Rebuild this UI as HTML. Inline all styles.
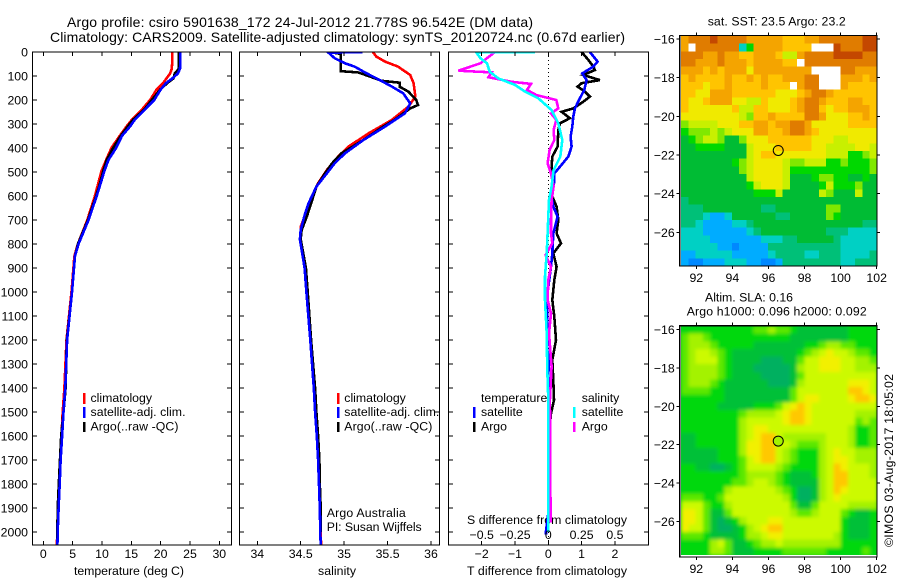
<!DOCTYPE html>
<html>
<head>
<meta charset="utf-8">
<title>Argo profile csiro 5901638_172</title>
<style>
html,body{margin:0;padding:0;background:#fff;}
svg{display:block;}
text{font-family:"Liberation Sans",sans-serif;fill:#000;font-size:12.3px;}
.t{font-size:14px;}
</style>
</head>
<body>
<svg id="fig" xmlns="http://www.w3.org/2000/svg" width="900" height="580" viewBox="0 0 900 580">
<defs>
<clipPath id="clip-temp"><rect x="32.5" y="52" width="199" height="493"/></clipPath>
<clipPath id="clip-sal"><rect x="239.5" y="52" width="200" height="493"/></clipPath>
<clipPath id="clip-diff"><rect x="448.5" y="52" width="200" height="493"/></clipPath>
<clipPath id="clip-sla"><rect x="681" y="326" width="196" height="229"/></clipPath>
<filter id="smooth" x="-5%" y="-5%" width="110%" height="110%"><feGaussianBlur stdDeviation="1.9"/></filter>
</defs>
<rect x="0" y="0" width="900" height="580" fill="#fff"/>
<text class="t" x="67" y="27" textLength="466" lengthAdjust="spacing">Argo profile: csiro 5901638_172 24-Jul-2012 21.778S 96.542E (DM data)</text>
<text class="t" x="50" y="42" textLength="575" lengthAdjust="spacing">Climatology: CARS2009. Satellite-adjusted climatology: synTS_20120724.nc (0.67d earlier)</text>

<text x="74" y="575" textLength="110" lengthAdjust="spacing">temperature (deg C)</text>
<text x="318" y="575" textLength="38" lengthAdjust="spacing">salinity</text>
<text x="467" y="575" textLength="160" lengthAdjust="spacing">T difference from climatology</text>
<text x="467" y="524" textLength="160" lengthAdjust="spacing">S difference from climatology</text>

<rect x="83" y="393" width="2.5" height="11" fill="#f00"/>
<rect x="83" y="407" width="2.5" height="11" fill="#00f"/>
<rect x="83" y="422" width="2.5" height="10" fill="#000"/>
<text x="90.5" y="402">climatology</text>
<text x="90.5" y="416" textLength="95" lengthAdjust="spacing">satellite-adj. clim.</text>
<text x="90.5" y="430.5" textLength="88" lengthAdjust="spacing">Argo(..raw -QC)</text>

<rect x="337" y="393" width="2.5" height="11" fill="#f00"/>
<rect x="337" y="407" width="2.5" height="11" fill="#00f"/>
<rect x="337" y="422" width="2.5" height="10" fill="#000"/>
<text x="344.3" y="402">climatology</text>
<text x="344.3" y="416" textLength="95" lengthAdjust="spacing">satellite-adj. clim.</text>
<text x="344.3" y="430.5" textLength="88" lengthAdjust="spacing">Argo(..raw -QC)</text>
<text x="326.7" y="517" textLength="79" lengthAdjust="spacing">Argo Australia</text>
<text x="326.7" y="531" textLength="95" lengthAdjust="spacing">PI: Susan Wijffels</text>

<text x="481" y="402">temperature</text>
<text x="481" y="416">satellite</text>
<text x="481" y="430.5">Argo</text>
<rect x="473" y="407" width="2.5" height="11" fill="#00f"/>
<rect x="473" y="422" width="2.5" height="10" fill="#000"/>
<text x="581.7" y="402">salinity</text>
<text x="581.7" y="416">satellite</text>
<text x="581.7" y="430.5">Argo</text>
<rect x="573" y="407" width="2.5" height="11" fill="#0ff"/>
<rect x="573" y="422" width="2.5" height="10" fill="#f0f"/>

<text x="707.7" y="25.5" textLength="138" lengthAdjust="spacing">sat. SST: 23.5 Argo: 23.2</text>
<text x="705" y="301.5" textLength="88" lengthAdjust="spacing">Altim. SLA: 0.16</text>
<text x="686.7" y="315.5" textLength="180" lengthAdjust="spacing">Argo h1000: 0.096 h2000: 0.092</text>
<text transform="translate(893,547) rotate(-90)" textLength="173" lengthAdjust="spacing">©IMOS 03-Aug-2017 18:05:02</text>
</svg>

<script>
// Depths (m) shared by temperature profiles
var tempDepths = [0,30,70,90,110,130,157,200,240,282,310,350,400,450,497,545,600,700,800,850,1000,1200,1400,1500,1600,1700,1800,1900,2000,2054];
var tempClim = [22.0,22.0,21.9,21.6,21.0,20.4,19.3,18.2,16.8,15.1,14.2,13.0,11.6,10.7,9.9,9.4,8.8,7.5,5.9,5.3,4.8,3.95,3.6,3.3,3.1,2.85,2.7,2.55,2.4,2.3];
var tempSat = [23.35,23.35,23.3,22.9,22.0,20.9,20.0,18.9,17.3,15.6,14.8,13.4,12.4,11.1,10.4,9.8,9.1,7.7,6.0,5.4,4.9,4.05,3.75,3.45,3.2,2.95,2.8,2.6,2.45,2.4];
var tempArgo = [23.1,23.1,23.1,22.4,22.2,21.1,19.9,18.5,17.2,15.3,14.4,13.2,11.9,10.8,10.2,9.7,9.0,7.6,5.9,5.4,4.9,4.0,3.8,3.45,3.05,2.85,2.65,2.45,2.4,2.35];

// Salinity profiles: each with its own depths
var salClimDepths = [0,19,40,61,96,130,186,228,283,339,394,436,492,547,603,672,728,780,900,1000,1200,1400,1500,1600,1700,1800,1900,2000,2054];
var salClim = [35.33,35.37,35.47,35.62,35.76,35.80,35.82,35.74,35.55,35.28,35.05,34.93,34.80,34.70,34.63,34.56,34.50,34.50,34.55,34.57,34.61,34.66,34.67,34.685,34.70,34.71,34.72,34.73,34.735];
var salSatDepths = [0,3,26,47,61,89,117,144,172,214,256,311,367,422,464,506,561,631,686,742,780,900,1000,1200,1400,1500,1600,1700,1800,1900,2000,2054];
var salSat = [35.21,34.82,34.89,35.01,35.12,35.26,35.41,35.55,35.68,35.76,35.70,35.47,35.22,35.01,34.89,34.80,34.68,34.59,34.54,34.50,34.49,34.545,34.565,34.61,34.65,34.665,34.685,34.70,34.71,34.72,34.725,34.73];
var salArgoDepths = [0,8,80,85,100,120,128,145,165,200,221,235,283,311,367,422,464,506,561,631,686,742,780,900,1000,1200,1400,1500,1600,1700,1800,1900,2000];
var salArgo = [34.83,34.96,34.96,35.16,35.28,35.43,35.64,35.64,35.74,35.83,35.85,35.76,35.58,35.45,35.22,34.97,34.86,34.78,34.68,34.62,34.57,34.51,34.50,34.56,34.58,34.62,34.665,34.68,34.70,34.715,34.72,34.73,34.73];

// Difference profiles
var dTSatDepths = [0,40,61,89,117,158,193,235,269,311,353,394,436,478,506,547,589,644,686,756,839,895,1033,1145,1242,1339,1450,1700,1900,1996,2010];
var dTSat = [1.25,1.48,1.35,1.02,1.15,1.08,.95,.8,.75,.72,.67,.7,.6,.35,.18,.17,.08,.15,.28,.15,.12,.08,-.05,-.02,.05,0,.02,.02,.02,-.07,-.07];
var dTArgoDepths = [0,33,61,75,96,117,130,144,165,186,207,235,249,276,297,325,394,436,478,533,589,644,700,756,797,839,895,950,1033,1103,1200,1283,1367,1450,1506,1547,1800];
var dTArgo = [1.0,1.2,1.35,1.4,1.05,1.55,1.0,.88,1.1,1.25,1.05,.75,.4,.65,.35,.3,.28,.12,.1,.12,.08,.25,.3,.25,.38,.15,.25,.18,.12,.18,.23,.12,.15,.17,.08,.05,.03];
var dSArgoDepths = [0,47,78,85,105,124,133,158,179,200,235,256,283,325,367,408,464,506,561,617,700,756,797,846,895,950,1033,1089,1172,1311,1450,1960];
var dSArgo = [-.4,-.51,-.675,-.425,-.45,-.275,-.13,-.16,-.09,.06,.075,.02,.06,.04,.045,.01,-.005,.02,.04,.025,.02,.02,.03,-.02,.02,0,-.005,.02,.005,.025,.012,.017];
var dSSatDepths = [0,2,26,47,82,110,137,165,193,242,297,367,436,492,561,617,756,839,936,1033,1172,1311,1450,2000];
var dSSat = [-.1,-.54,-.51,-.46,-.44,-.375,-.25,-.175,-.075,.025,.075,.105,.09,.04,.025,.005,-.005,-.012,-.025,-.025,-.012,-.008,0,0];

// Axis tick labels
var depthTicks = [0,100,200,300,400,500,600,700,800,900,1000,1100,1200,1300,1400,1500,1600,1700,1800,1900,2000];
var tempTicks = [0,5,10,15,20,25,30];
var salTicks = [34,34.5,35,35.5,36];
var tDiffTicks = [-2,-1,0,1,2];
var sDiffTicks = [-0.5,-0.25,0,0.25,0.5];
var lonTicks = [92,94,96,98,100,102];
var latTicks = [-16,-18,-20,-22,-24,-26];
var floatLon = 96.542;
var floatLat = -21.778;

// SST map: colour level per cell, '.' = no data
var sstLevels = [
"abbbcbbbbaaaaa999aabbbbbbcc",
"a.bbbbbb25aaaa9999...cbbbcc",
"bbbaabaa99aaa977abbbbccccbb",
"bbaaabaaa9aaaa99.bbbbbbbbbb",
"aaa9a9aaa8aaaaaaaa....bbaaa",
"9a9999a99a9a99aaabb...aaa9a",
"999899a9999a999.abb...a9999",
"9988aaa9999998889abba999999",
"9889aaa887798889abba999aa99",
"9888888977998889abb9899aaa9",
"888888887699a9999bba88899a9",
"6777788899aa9aabba888889999",
"5666767888aa99abba988888888",
"456776446888999999888778888",
"445555444788899999887777887",
"444444444789988888887775567",
"444444456788887667775565556",
"444444446788887555555555556",
"444444444788887444566554454",
"444444444578887444457555644",
"444444444455574444476444744",
"344444444444444444444444444",
"333444444443344444446644444",
"333211244444433444446544444",
"332111122344444444444444433",
"222111111234444444443332222",
"222211111112223344444322222",
"222221101111333333333322222",
"112222211111233332233322223",
"100111222110013333333322333"
];
var sstPalette = {"0":"#0088ff","1":"#00acff","2":"#00d0c4","3":"#00c078","4":"#00bc34","5":"#00d800","6":"#80e800","7":"#c8f000","8":"#f0ea00","9":"#ffc400","a":"#f4a400","b":"#e07c00","c":"#c44800",".":"#ffffff"};

// SLA map: colour level per cell
var slaLevels = [
"222222222233433211111112222",
"344322222222222111111112222",
"344432222211111112234433222",
"345543211111111123456554332",
"345553211110001135566655443",
"344443211100000145566655444",
"344443211110000135555555555",
"344432111111000145555556665",
"333322111111111355555557765",
"222222111111111356655556776",
"222221111122235676555555555",
"222222223444456776555555444",
"222222224555556776555555343",
"222222224566555555555554223",
"112222224567754444445554223",
"112222224667755433345554223",
"111112224667754322245655444",
"111112223567754322245665444",
"221100123555543222245765554",
"222222223444432111245775554",
"222222233455432111145775555",
"222222455555543200145765555",
"333223555555554200145655555",
"555322455555555311355554444",
"665311355555555433455532112",
"665310124555665555555521112",
"655310012456775555555521112",
"333211112445665555555421112",
"222245311234454444444422222",
"222244311122223333332222232"
];
var slaPalette = {"0":"#00b060","1":"#00c038","2":"#00d80c","3":"#5ce800","4":"#a4f200","5":"#ccfa00","6":"#f2f000","7":"#ffc800"};
var slaCircleLevel = "4";

var svg = document.getElementById('fig');
var NS = 'http://www.w3.org/2000/svg';

function mk(tag, name, attrs, parent) {
  var el = document.createElementNS(NS, tag);
  
  
  for (var k in attrs) { el.setAttribute(k, attrs[k]); }
  (parent || svg).appendChild(el);
  return el;
}
function fmtMinus(v) { return String(v).replace('-', '\u2212'); }
function label(name, x, y, txt, anchor) {
  var t = mk('text', name, {x: x, y: y, 'text-anchor': anchor}, svg);
  t.textContent = txt;
  return t;
}
function tick(name, x1, y1, x2, y2) {
  mk('line', name, {x1: x1, y1: y1, x2: x2, y2: y2, stroke: '#000', 'stroke-width': 1, 'shape-rendering': 'crispEdges'}, svg);
}

// Axis functions
function yDepth(d) { return 52 + d * 0.24; }
function xTemp(v) { return 43.3 + v * 5.867; }
function xSal(v) { return 257.3 + (v - 34) * 86.85; }
function xDT(v) { return 548.3 + v * 33.3; }
function xDS(v) { return 548.3 + v * 133.2; }
function xLon(v) { return 696.3 + (v - 92) * 18.04; }
function ySst(v) { return 39 + (-16 - v) * 19.33; }
function ySla(v) { return 329.3 + (-16 - v) * 19.24; }

function profile(name, depths, vals, xf, color, clip, w) {
  var pts = [];
  for (var i = 0; i < vals.length; i++) {
    pts.push(xf(vals[i]).toFixed(1) + ',' + yDepth(depths[i]).toFixed(1));
  }
  mk('polyline', name, {points: pts.join(' '), fill: 'none', stroke: color, 'stroke-width': w || 2.6, 'stroke-linejoin': 'miter', 'shape-rendering': 'crispEdges', 'clip-path': 'url(#' + clip + ')'}, svg);
}

function frame(name, x, y, w, h) {
  mk('rect', name, {x: x, y: y, width: w, height: h, fill: 'none', stroke: '#000', 'stroke-width': 1.4, 'shape-rendering': 'crispEdges'}, svg);
}

// Heatmaps
function heat(name, rows, palette, x0, y0, w, h, parent) {
  var nr = rows.length;
  for (var r = 0; r < nr; r++) {
    var row = rows[r];
    var nc = row.length;
    for (var c = 0; c < nc; c++) {
      mk('rect', name + '-cell', {
        x: (x0 + c * w / nc).toFixed(2),
        y: (y0 + r * h / nr).toFixed(2),
        width: (w / nc + 0.6).toFixed(2),
        height: (h / nr + 0.6).toFixed(2),
        fill: palette[row.charAt(c)],
        'shape-rendering': 'crispEdges'
      }, parent);
    }
  }
}

heat('sst-map', sstLevels, sstPalette, 681, 36, 196, 230, svg);
var slaClip = mk('g', 'sla-map', {'clip-path': 'url(#clip-sla)'}, svg);
mk('rect', 'sla-map-backing', {x: 675, y: 320, width: 210, height: 240, fill: '#00d020'}, slaClip);
var slaBlur = mk('g', 'sla-map-cells', {filter: 'url(#smooth)'}, slaClip);
heat('sla-map', slaLevels, slaPalette, 681, 326, 196, 229, slaBlur);

// Profile lines
profile('temp-climatology-line', tempDepths, tempClim, xTemp, '#f00', 'clip-temp');
profile('temp-argo-line', tempDepths, tempArgo, xTemp, '#000', 'clip-temp');
profile('temp-satellite-line', tempDepths, tempSat, xTemp, '#00f', 'clip-temp');

profile('sal-climatology-line', salClimDepths, salClim, xSal, '#f00', 'clip-sal');
profile('sal-argo-line', salArgoDepths, salArgo, xSal, '#000', 'clip-sal');
profile('sal-satellite-line', salSatDepths, salSat, xSal, '#00f', 'clip-sal');

mk('line', 'zero-difference-line', {x1: xDT(0), y1: 52, x2: xDT(0), y2: 545, stroke: '#000', 'stroke-width': 1, 'stroke-dasharray': '1 3', 'shape-rendering': 'crispEdges'}, svg);
profile('dt-argo-line', dTArgoDepths, dTArgo, xDT, '#000', 'clip-diff');
profile('dt-satellite-line', dTSatDepths, dTSat, xDT, '#00f', 'clip-diff');
profile('ds-argo-line', dSArgoDepths, dSArgo, xDS, '#f0f', 'clip-diff');
profile('ds-satellite-line', dSSatDepths, dSSat, xDS, '#0ff', 'clip-diff');

// Profile panel frames
frame('temperature-panel-frame', 32.5, 52, 199, 493);
frame('salinity-panel-frame', 239.5, 52, 200, 493);
frame('difference-panel-frame', 448.5, 52, 200, 493);

// Depth axis
depthTicks.forEach(function (d) {
  var y = yDepth(d);
  tick('depth-tick', 32.5, y, 37, y);
  tick('depth-tick-right', 227, y, 231.5, y);
  label('depth-tick-label', 28, y + 4.5, String(d), 'end');
  tick('depth-tick-sal', 239.5, y, 244, y);
  tick('depth-tick-sal-right', 435, y, 439.5, y);
  tick('depth-tick-diff', 448.5, y, 453, y);
  tick('depth-tick-diff-right', 644, y, 648.5, y);
});

// Temperature axis
tempTicks.forEach(function (v) {
  var x = xTemp(v);
  tick('temp-tick', x, 541, x, 545);
  tick('temp-tick-top', x, 52, x, 56);
  label('temp-tick-label', x, 558, String(v), 'middle');
});

// Salinity axis
salTicks.forEach(function (v) {
  var x = xSal(v);
  tick('sal-tick', x, 541, x, 545);
  tick('sal-tick-top', x, 52, x, 56);
  label('sal-tick-label', x, 558, String(v), 'middle');
});

// Difference axes
tDiffTicks.forEach(function (v) {
  var x = xDT(v);
  tick('dt-tick', x, 541, x, 545);
  tick('dt-tick-top', x, 52, x, 56);
  label('dt-tick-label', x, 558, fmtMinus(v), 'middle');
});
sDiffTicks.forEach(function (v) {
  label('ds-tick-label', xDS(v), 539, fmtMinus(v), 'middle');
});

// Map axes
function mapAxes(prefix, left, right, top, bottom, yf, lonY) {
  frame(prefix + '-frame', left, top, right - left, bottom - top);
  lonTicks.forEach(function (v) {
    var x = xLon(v);
    tick(prefix + '-lon-tick', x, top - 3, x, top);
    tick(prefix + '-lon-tick-bottom', x, bottom, x, bottom + 3);
    label(prefix + '-lon-label', x, lonY, String(v), 'middle');
  });
  latTicks.forEach(function (v) {
    var y = yf(v);
    tick(prefix + '-lat-tick', left - 3, y, left, y);
    tick(prefix + '-lat-tick-right', right, y, right + 3, y);
    label(prefix + '-lat-label', left - 5, y + 4.5, fmtMinus(v), 'end');
  });
}
mapAxes('sst-map', 679.7, 877, 35.5, 266, ySst, 282);
mapAxes('sla-map', 679.7, 877, 325.7, 557, ySla, 573);

// Float position markers
mk('circle', 'sst-float-marker', {cx: xLon(floatLon), cy: ySst(floatLat) - 0.2, r: 5, fill: 'none', stroke: '#000', 'stroke-width': 1}, svg);
mk('circle', 'sla-float-marker', {cx: xLon(floatLon), cy: ySla(floatLat) + 0.6, r: 5, fill: slaPalette[slaCircleLevel], stroke: '#000', 'stroke-width': 1}, svg);
</script>
</body>
</html>
